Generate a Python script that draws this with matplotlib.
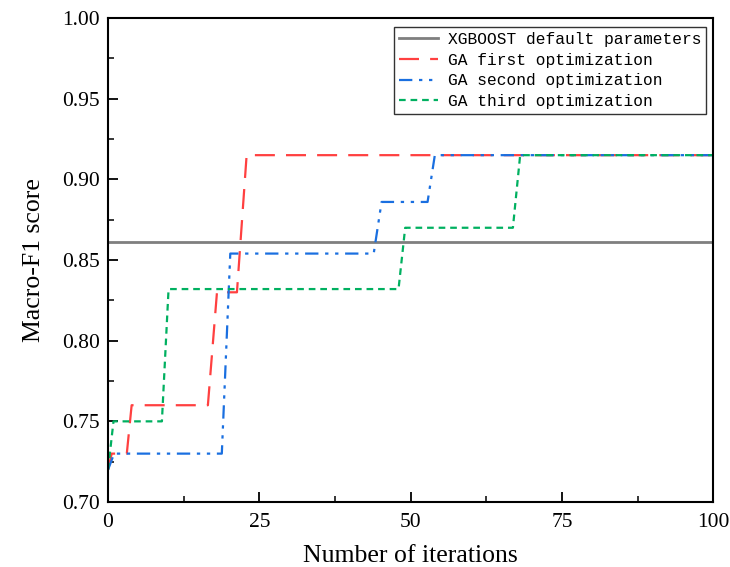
import matplotlib
matplotlib.use("Agg")
import matplotlib.pyplot as plt
from matplotlib.ticker import MultipleLocator, FormatStrFormatter

# baseline score of untuned XGBoost
xgb_default = 0.861

# step curves of the three GA runs (iteration, score)
ga1_x = [0, 0.6, 3.1, 3.9, 16.5, 18.0, 21.3, 22.9, 100]
ga1_y = [0.720, 0.730, 0.730, 0.760, 0.760, 0.830, 0.830, 0.915, 0.915]

ga2_x = [0, 1.0, 18.8, 20.2, 43.9, 45.2, 52.8, 54.0, 100]
ga2_y = [0.720, 0.730, 0.730, 0.854, 0.854, 0.886, 0.886, 0.915, 0.915]

ga3_x = [0, 0.9, 8.9, 10.0, 48.0, 49.1, 66.9, 68.1, 100]
ga3_y = [0.720, 0.750, 0.750, 0.832, 0.832, 0.870, 0.870, 0.915, 0.915]

x_ticks = [0, 25, 50, 75, 100]
y_ticks = [0.70, 0.75, 0.80, 0.85, 0.90, 0.95, 1.00]

serif = ["Liberation Serif", "DejaVu Serif"]

fig = plt.figure(figsize=(7.30, 5.67), dpi=100)
ax = fig.add_axes([0.148, 0.1146, 0.829, 0.8536])

ax.axhline(xgb_default, color="#7f7f7f", lw=2.0, label="XGBOOST default parameters")
ax.plot(ga1_x, ga1_y, color="#ff4040", lw=1.6, dashes=(9, 5), label="GA first optimization")
ax.plot(ga2_x, ga2_y, color="#1a6fe0", lw=1.6, dashes=(6, 3, 1.5, 3, 1.5, 3),
        label="GA second optimization")
ax.plot(ga3_x, ga3_y, color="#00b060", lw=1.6, dashes=(3, 2.2), label="GA third optimization")

ax.set_xlim(0, 100)
ax.set_ylim(0.70, 1.00)
ax.set_xticks(x_ticks)
ax.set_yticks(y_ticks)
ax.xaxis.set_minor_locator(MultipleLocator(12.5))
ax.yaxis.set_minor_locator(MultipleLocator(0.025))
ax.yaxis.set_major_formatter(FormatStrFormatter("%.2f"))
ax.tick_params(which="major", direction="in", length=7, width=1.3,
               top=False, right=False, labelsize=15.5)
ax.tick_params(axis="x", which="major", pad=8)
ax.tick_params(axis="y", which="major", pad=6)
ax.tick_params(which="minor", direction="in", length=4, width=1.1, top=False, right=False)
for lab in ax.get_xticklabels() + ax.get_yticklabels():
    lab.set_family(serif)
for sp in ax.spines.values():
    sp.set_linewidth(1.5)

ax.set_xlabel("Number of iterations", family=serif, fontsize=18.5, labelpad=9)
ax.set_ylabel("Macro-F1 score", family=serif, fontsize=18.5, labelpad=12)

leg = ax.legend(loc="upper right", prop={"family": "Liberation Mono", "size": 11.7},
                frameon=True, fancybox=False, edgecolor="black", handlelength=2.4,
                borderpad=0.3, labelspacing=0.35, handletextpad=0.6,
                borderaxespad=0, bbox_to_anchor=(0.988, 0.981))
leg.get_frame().set_linewidth(1.0)

fig.savefig("out.png", dpi=100)
